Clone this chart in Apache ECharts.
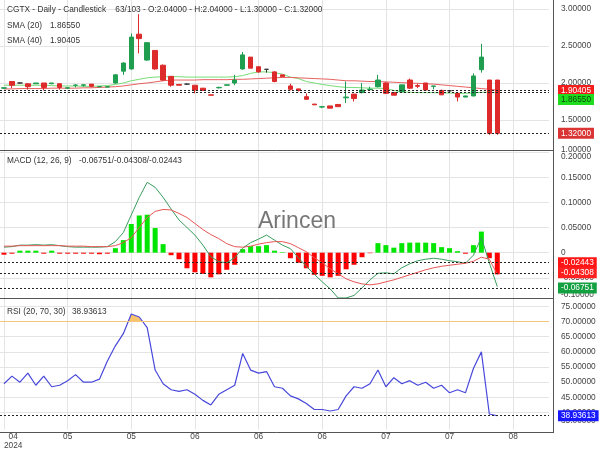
<!DOCTYPE html>
<html><head><meta charset="utf-8">
<script src="https://cdn.jsdelivr.net/npm/echarts@6/dist/echarts.min.js"></script>
<style>html,body{margin:0;padding:0;background:#fff}#c{width:600px;height:450px}</style>
</head><body><div id="c"></div>
<script>
// ---------- data ----------
const dates = ['2024-04-30','2024-05-01','2024-05-02','2024-05-03','2024-05-06','2024-05-07','2024-05-08','2024-05-09','2024-05-10','2024-05-13',
'2024-05-14','2024-05-15','2024-05-16','2024-05-17','2024-05-20','2024-05-21','2024-05-22','2024-05-23','2024-05-24','2024-05-28',
'2024-05-29','2024-05-30','2024-05-31','2024-06-03','2024-06-04','2024-06-05','2024-06-06','2024-06-07','2024-06-10','2024-06-11',
'2024-06-12','2024-06-13','2024-06-14','2024-06-17','2024-06-18','2024-06-20','2024-06-21','2024-06-24','2024-06-25','2024-06-26',
'2024-06-27','2024-06-28','2024-07-01','2024-07-02','2024-07-03','2024-07-05','2024-07-08','2024-07-09','2024-07-10','2024-07-11',
'2024-07-12','2024-07-15','2024-07-16','2024-07-17','2024-07-18','2024-07-19','2024-07-22','2024-07-23','2024-07-24','2024-07-25',
'2024-07-26','2024-07-29','2024-07-30','2024-07-31','2024-08-01','2024-08-02','2024-08-05','2024-08-06','2024-08-07'];

const opens  = [1.93,2.02,2.00,1.99,1.99,2.00,1.99,1.99,1.93,1.97, 1.97,1.985,1.95,1.945,2.00,2.16,2.19,2.66,2.31,2.44,
                2.24,2.09,1.98,1.985,1.97,1.93,1.84,1.935,1.97,2.00, 2.19,2.35,2.22,2.185,2.15,2.11,1.96,1.92,1.815,1.715,
                1.675,1.69,1.71,1.80,1.85,1.87,1.91,1.95,2.00,1.87, 1.88,2.04,1.965,2.00,1.955,1.90,1.895,1.86,1.81,1.825,
                2.18,2.04,2.04];
const closes = [1.935,1.97,2.00,1.95,2.00,1.94,2.00,1.94,1.935,1.972, 1.975,1.955,1.952,1.95,2.11,2.27,2.62,2.60,2.545,2.19,
                2.04,1.97,1.97,1.985,1.905,1.90,1.835,1.94,1.975,2.04, 2.38,2.20,2.15,2.185,2.02,2.085,1.915,1.90,1.78,1.705,
                1.68,1.66,1.68,1.81,1.79,1.905,1.915,2.04,1.86,1.835, 1.975,1.93,1.955,1.905,1.96,1.84,1.895,1.81,1.825,2.095,
                2.35,1.32,1.32];
const lows   = [1.92,1.93,1.99,1.91,1.99,1.90,1.99,1.91,1.93,1.94, 1.95,1.94,1.94,1.94,1.99,2.11,2.18,2.40,2.30,2.18,
                2.03,1.95,1.97,1.98,1.86,1.90,1.835,1.925,1.96,1.97, 2.18,2.20,2.14,2.14,2.01,2.085,1.90,1.885,1.775,1.705,
                1.66,1.66,1.68,1.73,1.75,1.86,1.90,1.94,1.85,1.835, 1.88,1.92,1.93,1.905,1.915,1.84,1.88,1.75,1.81,1.82,
                2.14,1.30,1.30];
const highs  = [1.94,2.02,2.005,1.99,2.00,2.00,2.00,1.99,1.94,1.98, 1.98,1.985,1.955,1.955,2.12,2.28,2.67,2.93,2.55,2.44,
                2.25,2.09,1.98,1.995,1.97,1.93,1.84,1.95,1.975,2.11, 2.42,2.35,2.22,2.185,2.16,2.11,1.99,1.92,1.86,1.715,
                1.69,1.69,1.71,2.02,1.85,2.00,1.95,2.11,2.01,1.87, 1.975,2.06,1.99,2.00,1.96,1.91,1.895,1.86,1.825,2.13,
                2.53,2.04,2.04];

const sma20 = [1.97,1.97,1.97,1.97,1.97,1.97,1.965,1.96,1.96,1.96, 1.955,1.955,1.96,1.965,1.98,2.00,2.03,2.05,2.07,2.08,
               2.085,2.085,2.085,2.08,2.08,2.08,2.08,2.08,2.08,2.085, 2.10,2.13,2.15,2.15,2.14,2.12,2.08,2.06,2.02,2.00,
               1.98,1.965,1.95,1.94,1.94,1.935,1.93,1.93,1.925,1.90, 1.88,1.875,1.87,1.87,1.87,1.865,1.865,1.86,1.86,1.865,
               1.875,1.875,1.8655];
const sma40 = [1.92,1.92,1.925,1.925,1.925,1.925,1.93,1.93,1.93,1.93, 1.935,1.935,1.94,1.945,1.95,1.96,1.975,1.99,2.00,2.015,
               2.03,2.04,2.04,2.04,2.04,2.045,2.045,2.045,2.045,2.05, 2.05,2.055,2.06,2.065,2.07,2.075,2.075,2.07,2.065,2.06,
               2.055,2.05,2.04,2.03,2.03,2.025,2.02,2.02,2.015,2.01, 2.005,2.00,1.995,1.99,1.985,1.975,1.965,1.955,1.945,1.935,
               1.925,1.915,1.90405];

const macdLine = [0.011,0.012,0.015,0.015,0.016,0.015,0.016,0.014,0.012,0.011, 0.011,0.011,0.011,0.012,0.022,0.040,0.075,0.110,0.140,0.130,
                  0.110,0.087,0.065,0.050,0.035,0.015,-0.008,-0.018,-0.020,-0.010, 0.009,0.020,0.027,0.035,0.025,0.015,0.008,-0.010,-0.027,-0.043,
                  -0.058,-0.072,-0.090,-0.090,-0.085,-0.070,-0.054,-0.041,-0.040,-0.042, -0.030,-0.022,-0.016,-0.013,-0.011,-0.013,-0.016,-0.018,-0.021,-0.005,
                  0.030,-0.020,-0.06751];
const signalLine = [0.013,0.013,0.014,0.014,0.014,0.014,0.014,0.014,0.013,0.013, 0.013,0.012,0.012,0.012,0.014,0.020,0.030,0.050,0.070,0.082,
                    0.086,0.085,0.078,0.070,0.058,0.046,0.036,0.028,0.018,0.012, 0.011,0.013,0.017,0.020,0.022,0.022,0.018,0.010,0.002,-0.010,
                    -0.020,-0.032,-0.042,-0.052,-0.058,-0.062,-0.064,-0.062,-0.058,-0.054, -0.049,-0.044,-0.039,-0.034,-0.030,-0.027,-0.025,-0.023,-0.021,-0.017,
                    -0.009,-0.013,-0.04308];
const macdHist = [-0.004,-0.002,0.004,0.004,0.004,-0.002,0.004,-0.002,-0.002,-0.002, -0.002,-0.002,-0.003,-0.002,0.009,0.025,0.057,0.074,0.0755,0.049,
                  0.017,-0.005,-0.013,-0.031,-0.039,-0.042,-0.049,-0.043,-0.034,-0.024, 0.007,0.013,0.013,0.015,0.004,0.001,-0.011,-0.020,-0.031,-0.044,
                  -0.046,-0.049,-0.046,-0.033,-0.024,-0.009,-0.001,0.019,0.015,0.010, 0.019,0.020,0.020,0.020,0.019,0.011,0.009,0.003,-0.002,0.015,
                  0.042,-0.011,-0.02443];
const macdBarEnd = -0.043;   // drawn length of the last histogram bar as seen in the picture

const rsi = [49.5,52,50,53,49,52,48.5,49,50.5,52.5, 50,50,51,57,62,66,72.5,71.5,68,54,
             49.5,47.5,47,47.5,46,44,42.5,46,47.5,49, 59.5,54,53,53.5,48.5,48,45.5,44.5,43,41,
             41,40.5,41,45.5,48.5,48,49.5,54,48.5,51.5, 49.5,50.5,49,50,48,49,46.5,47.5,46.5,54.5,
             60,39.5,38.93613];

const priceLabels = [1.5, 2, 2.5, 3];
const macdLabels  = [-0.05, 0, 0.05, 0.10, 0.15, 0.20];
const rsiLabels   = [40, 45, 50, 55, 60, 65, 70, 75];
const monthTicks  = [0, 8, 16, 24, 32, 40, 48, 56, 64];
const rsiUpper = 70;

// ---------- helpers ----------
const FONT = 'Liberation Sans, Arial, sans-serif';
const FS = 8.3;
const last = a => a[a.length - 1];
const f5 = v => v.toFixed(5);
const N = dates.length;
const GL = -0.9, GW = 549.9;
const dotted = {type: [2, 2], color: '#222', width: 1};
function tag(bg, fg, txt, shiftDown) {
  if (shiftDown) {
    return {show: true, position: 'end', distance: 9, formatter: '{s| }\n{t|' + txt + '}',
      rich: {s: {lineHeight: shiftDown, fontSize: 2}, t: {backgroundColor: bg, color: fg, padding: [2, 3, 1, 3], fontSize: FS, fontFamily: FONT, lineHeight: 11}}};
  }
  return {show: true, position: 'end', distance: 9, formatter: txt, backgroundColor: bg, color: fg,
    padding: [2, 3, 1, 3], fontSize: FS, fontFamily: FONT};
}

const grids = [
  {left: GL, width: GW, top: 0, height: 150},
  {left: GL, width: GW, top: 150, height: 148},
  {left: GL, width: GW, top: 298, height: 134},
  {left: GL, width: GW, top: 298, height: 24}
];

const xAxes = [];
for (let g = 0; g < 4; g++) {
  xAxes.push({type: 'category', gridIndex: g, data: dates, boundaryGap: true, show: false});
}
for (let g = 0; g < 3; g++) {
  xAxes.push({type: 'value', gridIndex: g, min: -0.5, max: N - 0.5, position: 'bottom',
    axisLine: {show: false}, axisTick: {show: false, customValues: monthTicks},
    splitLine: {show: true, lineStyle: {color: '#e4e4e4', width: 1}},
    axisLabel: g === 2 ? {show: true, customValues: monthTicks, margin: 3, fontSize: FS, fontFamily: FONT, color: '#444',
      alignMinLabel: 'left',
      formatter: v => { const d = dates[Math.round(v)]; const m = d.slice(5, 7);
        return v === 0 ? '{c|' + m + '}\n{c|' + d.slice(0, 4) + '}' : m; },
      rich: {c: {align: 'center', fontSize: FS, fontFamily: FONT, color: '#444', lineHeight: 9}}} : {show: false}
  });
}

const yCommon = {position: 'right', offset: 4, axisLine: {show: false},
  splitLine: {show: true, lineStyle: {color: '#e4e4e4', width: 1}}};
const lbl = {fontSize: FS, fontFamily: FONT, color: '#444', margin: 8};
const yAxes = [
  Object.assign({}, yCommon, {type: 'value', gridIndex: 0, min: 1.0946, max: 3.1216,
    axisTick: {show: false, customValues: priceLabels},
    axisLabel: Object.assign({}, lbl, {customValues: [1.10].concat(priceLabels),
      formatter: v => v < 1.2 ? f5(1) : f5(v)})}),
  Object.assign({}, yCommon, {type: 'value', gridIndex: 1, min: -0.0901, max: 0.2042,
    axisTick: {show: false, customValues: macdLabels},
    axisLabel: Object.assign({}, lbl, {customValues: [-0.084, -0.05, 0, 0.05, 0.10, 0.15, 0.19],
      formatter: v => v > 0.18 ? f5(0.2) : (v < -0.08 ? f5(-0.1) : (Math.abs(v) < 1e-9 ? '0' : f5(v)))})}),
  Object.assign({}, yCommon, {type: 'value', gridIndex: 2, min: 34.40, max: 77.77,
    axisTick: {show: false, customValues: rsiLabels},
    axisLabel: Object.assign({}, lbl, {customValues: [37.4].concat(rsiLabels),
      formatter: v => v < 38 ? f5(35) : f5(v)})}),
  {type: 'value', gridIndex: 3, min: rsiUpper, max: 77.77, show: false, splitLine: {show: false}}
];

const candleData = opens.map((o, i) => [o, closes[i], lows[i], highs[i]]);
const histData = macdHist.map((v, i) => {
  const shown = (i === macdHist.length - 1) ? macdBarEnd : v;
  return {value: shown, itemStyle: {color: v >= 0 ? '#00e600' : '#ff0000'}};
});

const series = [
  {type: 'candlestick', xAxisIndex: 0, yAxisIndex: 0, data: candleData, barWidth: 5, z: 3,
    itemStyle: {color: '#1f9e50', color0: '#dd2a2a', borderColor: '#1f9e50', borderColor0: '#dd2a2a', borderColorDoji: '#333', borderWidth: 1},
    markLine: {symbol: ['none', 'none'], silent: true, animation: false, z: 10,
      data: [
        {yAxis: last(sma40), lineStyle: dotted, label: tag('#f21d1d', '#ffffff', f5(last(sma40)))},
        {yAxis: last(sma20), lineStyle: dotted, label: tag('#1fdc1f', '#0a4a0a', f5(last(sma20)), 14)},
        {yAxis: last(closes), lineStyle: dotted, label: tag('#d93535', '#ffffff', f5(last(closes)))}
      ]}},
  {type: 'line', xAxisIndex: 0, yAxisIndex: 0, data: sma20, symbol: 'none', z: 2,
    lineStyle: {color: '#78dc78', width: 1}},
  {type: 'line', xAxisIndex: 0, yAxisIndex: 0, data: sma40, symbol: 'none', z: 2,
    lineStyle: {color: '#e86060', width: 1}},
  {type: 'bar', xAxisIndex: 1, yAxisIndex: 1, data: histData, barWidth: 5, z: 2,
    markLine: {symbol: ['none', 'none'], silent: true, animation: false, z: 10,
      data: [
        {yAxis: last(macdHist), lineStyle: dotted, label: tag('#ff1515', '#ffffff', f5(last(macdHist)))},
        {yAxis: last(signalLine), lineStyle: dotted, label: tag('#ff2020', '#ffffff', f5(last(signalLine)))},
        {yAxis: last(macdLine), lineStyle: dotted, label: tag('#12a040', '#ffffff', f5(last(macdLine)))}
      ]}},
  {type: 'line', xAxisIndex: 1, yAxisIndex: 1, data: macdLine, symbol: 'none', z: 3,
    lineStyle: {color: '#3a9d5d', width: 1}},
  {type: 'line', xAxisIndex: 1, yAxisIndex: 1, data: signalLine, symbol: 'none', z: 3,
    lineStyle: {color: '#e85555', width: 1}},
  {type: 'line', xAxisIndex: 3, yAxisIndex: 3, data: rsi, symbol: 'none', z: 1,
    lineStyle: {width: 0, opacity: 0}, areaStyle: {color: '#f8c36a', opacity: 1, origin: 'start'}},
  {type: 'line', xAxisIndex: 2, yAxisIndex: 2, data: rsi, symbol: 'none', z: 3,
    lineStyle: {color: '#4848dc', width: 1.2},
    markLine: {symbol: ['none', 'none'], silent: true, animation: false, z: 10,
      data: [
        {yAxis: rsiUpper, lineStyle: {color: '#f2c67c', width: 1, type: 'solid'}, label: {show: false}},
        {yAxis: last(rsi), lineStyle: dotted, label: tag('#1818ff', '#ffffff', f5(last(rsi)))}
      ]}}
];

const txt = (x, y, s, extra) => ({type: 'text', x: x, y: y, silent: true, z: 100,
  style: Object.assign({text: s, fill: '#333', fontSize: FS, fontFamily: FONT, verticalAlign: 'middle'}, extra || {})});
const sep = (x1, y1, x2, y2) => ({type: 'line', silent: true, z: 90,
  shape: {x1: x1, y1: y1, x2: x2, y2: y2}, style: {stroke: '#555', lineWidth: 1}});

const graphic = [
  {type: 'text', x: 258, y: 222, silent: true, z: 1,
    style: {text: 'Arincen', fill: 'rgba(85,85,85,0.8)', fontSize: 23, fontFamily: FONT, verticalAlign: 'middle'}},
  txt(7, 10, 'CGTX - Daily - Candlestick    63/103 - O:' + f5(last(opens)) + ' - H:' + f5(last(highs)) + ' - L:' + f5(last(lows)) + ' - C:' + f5(last(closes))),
  txt(7, 25.5, 'SMA (20)'), txt(50, 25.5, f5(last(sma20))),
  txt(7, 41, 'SMA (40)'), txt(50, 41, f5(last(sma40))),
  txt(7, 160.5, 'MACD (12, 26, 9)'), txt(79, 160.5, f5(last(macdLine)) + '/' + f5(last(signalLine)) + '/' + f5(last(macdHist))),
  txt(7, 312, 'RSI (20, 70, 30)'), txt(72, 312, f5(last(rsi))),
  sep(0, 150.5, 553.5, 150.5), sep(0, 298.5, 553.5, 298.5), sep(0, 432.5, 553.5, 432.5), sep(553.5, 0, 553.5, 433)
];

const chart = echarts.init(document.getElementById('c'), null, {renderer: 'canvas'});
chart.setOption({animation: false, backgroundColor: '#fff', grid: grids, xAxis: xAxes, yAxis: yAxes, series: series, graphic: graphic});
</script></body></html>
